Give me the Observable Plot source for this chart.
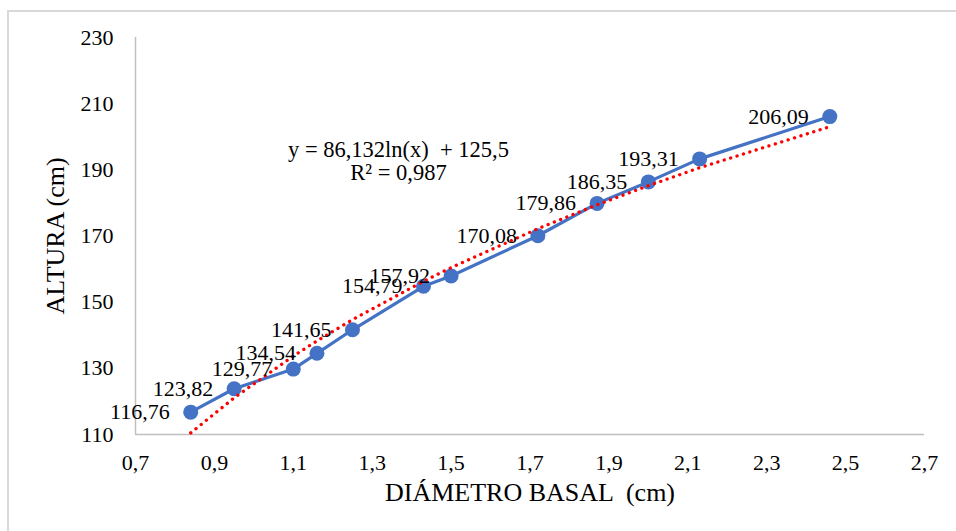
<!DOCTYPE html>
<html><head><meta charset="utf-8">
<script src="https://cdn.jsdelivr.net/npm/d3@7"></script>
<script src="https://cdn.jsdelivr.net/npm/@observablehq/plot@0.6"></script>
<style>
body{margin:0;background:#fff}
#wrap{position:relative;width:956px;height:531px;overflow:hidden}
#frame{position:absolute;left:7px;top:10px;width:2000px;height:2000px;border-top:2px solid #d9d9d9;border-left:2px solid #d9d9d9;pointer-events:none}
svg text{white-space:pre}
g[aria-label="x-axis label"] text, g[aria-label="y-axis label"] text{font-size:26px}
</style></head>
<body><div id="wrap"></div>
<script>
const diametro = [0.84, 0.95, 1.10, 1.16, 1.25, 1.43, 1.50, 1.72, 1.87, 2.00, 2.13, 2.46];
const altura = [116.76, 123.82, 129.77, 134.54, 141.65, 154.79, 157.92, 170.08, 179.86, 186.35, 193.31, 206.09];
const xTicks = [0.7, 0.9, 1.1, 1.3, 1.5, 1.7, 1.9, 2.1, 2.3, 2.5, 2.7];
const yTicks = [110, 130, 150, 170, 190, 210, 230];
const trendA = 86.132;
const trendB = 125.5;
const r2 = 0.987;
const xLabel = "DIÁMETRO BASAL  (cm)";
const yLabel = "ALTURA (cm)";

const locale = d3.formatLocale({decimal: ",", thousands: ".", grouping: [3], currency: ["", ""]});
const f1 = locale.format(".1f"), f2 = locale.format(".2f");
const data = diametro.map((x, i) => ({x, y: altura[i]}));
const eq = `y = ${locale.format(".3f")(trendA)}ln(x)  + ${f1(trendB)}\nR² = ${locale.format(".3f")(r2)}`;

const chart = Plot.plot({
  width: 956, height: 531,
  marginLeft: 135, marginRight: 32, marginTop: 37, marginBottom: 97,
  style: {fontFamily: "'Liberation Serif', 'Times New Roman', serif", fontSize: "22px", color: "#000", background: "white"},
  x: {domain: [0.7, 2.7]},
  y: {domain: [110, 230]},
  marks: [
    Plot.ruleX([0.7], {stroke: "#bfbfbf", strokeWidth: 1.5}),
    Plot.ruleY([110], {stroke: "#bfbfbf", strokeWidth: 1.5}),
    Plot.axisX(xTicks, {tickSize: 0, tickPadding: 20, tickFormat: f1, fontSize: 22, label: xLabel, labelAnchor: "center", labelOffset: 66, labelArrow: "none"}),
    Plot.axisY(yTicks, {tickSize: 0, tickPadding: 22, fontSize: 22, label: yLabel, labelAnchor: "center", labelOffset: 90, labelArrow: "none"}),
    Plot.line(data, {x: "x", y: "y", stroke: "#4472C4", strokeWidth: 3.2}),
    Plot.dot(data, {x: "x", y: "y", r: 7.5, fill: "#4472C4", stroke: "none"}),
    Plot.line(data, {x: "x", y: d => trendB + trendA * Math.log(d.x), stroke: "#ff0000", strokeWidth: 3.3, strokeDasharray: "0.1 6.6", strokeLinecap: "round"}),
    Plot.text(data, {x: "x", y: "y", text: d => f2(d.y), textAnchor: "end", dx: -21, fontSize: 22, fill: "#000"}),
    Plot.text([eq], {frameAnchor: "top-left", dx: 263, dy: 124, textAnchor: "middle", lineAnchor: "middle", lineHeight: 1.0, fontSize: 22.5, fill: "#000"})
  ]
});
const wrap = document.getElementById("wrap");
wrap.appendChild(chart);
const fr = document.createElement("div"); fr.id = "frame"; wrap.appendChild(fr);
</script>
</body></html>
